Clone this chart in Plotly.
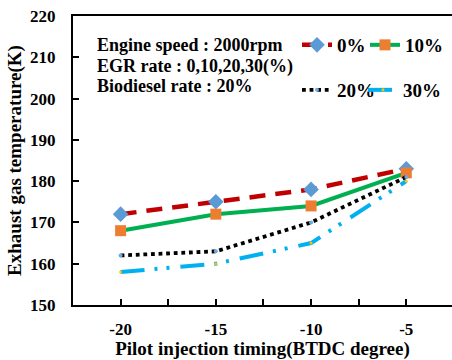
import plotly.graph_objects as go

timing = [-20, -15, -10, -5]
egr0 = [172, 175, 178, 183]
egr10 = [168, 172, 174, 182]
egr20 = [162, 163, 170, 181]
egr30 = [158, 160, 165, 180]
x_ticks = [-20, -15, -10, -5]
y_ticks = [150, 160, 170, 180, 190, 200, 210, 220]

FONT = "Liberation Serif"

fig = go.Figure()
fig.add_trace(go.Scatter(x=timing, y=egr0, name="0%", mode="lines+markers",
                         line=dict(color="#C00000", width=4.5, dash="16px,10px"),
                         marker=dict(symbol="diamond", size=12, color="#5B9BD5"),
                         legend="legend"))
fig.add_trace(go.Scatter(x=timing, y=egr10, name="10%", mode="lines+markers",
                         line=dict(color="#00B050", width=4),
                         marker=dict(symbol="square", size=11, color="#ED7D31"),
                         legend="legend2"))
fig.add_trace(go.Scatter(x=timing, y=egr20, name="20%", mode="lines+markers",
                         line=dict(color="#000000", width=3.8, dash="dot"),
                         marker=dict(symbol="circle", size=4, color="#6FA8DC"),
                         legend="legend3"))
fig.add_trace(go.Scatter(x=timing, y=egr30, name="30%", mode="lines+markers",
                         line=dict(color="#00B0F0", width=4, dash="24px,10px,3px,9px,3px,11px"),
                         marker=dict(symbol="circle", size=3, color="#FFC000"),
                         legend="legend4"))

tfont = dict(family=FONT, size=17, color="black", weight="bold")
ttl = dict(family=FONT, size=19, color="black", weight="bold")
lfont = dict(family=FONT, size=19, color="black", weight="bold")


def leg(xp, yp):
    return dict(orientation="h", x=(xp - 73) / 379, y=1 - (yp - 16) / 289,
                xanchor="left", yanchor="middle", bgcolor="rgba(0,0,0,0)",
                font=lfont, itemwidth=30)


fig.update_layout(
    width=452, height=360,
    margin=dict(l=73, r=0, t=16, b=55),
    paper_bgcolor="white", plot_bgcolor="white",
    font=dict(family=FONT, color="black"),
    showlegend=True,
    legend=leg(297, 45),
    legend2=leg(365, 45),
    legend3=leg(297, 90),
    legend4=leg(363, 90),
    xaxis=dict(range=[-22.5, -2.6], tickvals=x_ticks, ticktext=[str(v) for v in x_ticks],
               tickfont=tfont, ticks="inside", ticklen=6, tickwidth=1.5, tickcolor="black",
               minor=dict(dtick=2.5, tick0=0, ticks="inside", ticklen=6, tickwidth=1.5, tickcolor="black"),
               showline=True, linecolor="black", linewidth=2, mirror=True, showgrid=False,
               zeroline=False, ticklabelstandoff=8,
               title=dict(text="Pilot injection timing(BTDC degree)", font=ttl, standoff=4)),
    yaxis=dict(range=[150, 220], tickvals=y_ticks, tickfont=tfont, ticks="inside", ticklen=6,
               tickwidth=1.5, tickcolor="black", showline=True, linecolor="black", linewidth=2,
               mirror=False, showgrid=False, zeroline=False, ticklabelstandoff=12,
               title=dict(text="Exhaust gas temperature(K)", font=ttl, standoff=3)),
)

info = ["Engine speed : 2000rpm", "EGR rate : 0,10,20,30(%)", "Biodiesel rate : 20%"]
ys = [45, 66, 86]
for t, yp in zip(info, ys):
    fig.add_annotation(text=t, xref="paper", yref="paper", x=(95 - 73) / 379,
                       y=1 - (yp - 16) / 289, xanchor="left", yanchor="middle", showarrow=False,
                       font=dict(family=FONT, size=18, color="black", weight="bold"))

fig.write_html("out.html")
